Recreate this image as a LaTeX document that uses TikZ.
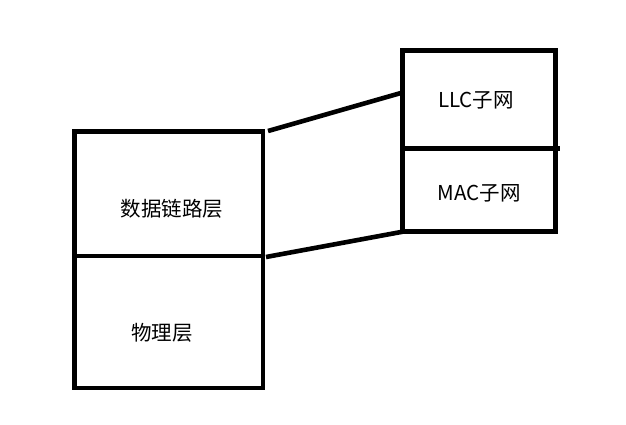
\documentclass[tikz,border=0pt]{standalone}
\usepackage{fontspec}
\setmainfont{Noto Sans CJK SC}
\usetikzlibrary{calc}
\begin{document}
\begin{tikzpicture}[x=1pt,y=-1pt,
  box/.style={draw=black,line width=4.6pt,inner sep=0pt,outer sep=0pt},
  lbl/.style={font=\fontsize{20.5}{24}\selectfont,inner sep=0pt},
  link/.style={draw=black,line width=4.6pt}]
\useasboundingbox[fill=white] (0,0) rectangle (626,424);
% left stack
\node[box,minimum width=188.5pt,minimum height=124.3pt] (dl) at (168.75,193.85) {};
\node[box,minimum width=188.5pt,minimum height=132pt] (phy) at (168.75,322) {};
% right stack
\node[box,minimum width=153pt,minimum height=97.6pt] (llc) at (479.2,99.5) {};
\node[box,minimum width=153pt,minimum height=83.4pt] (mac) at (479.2,190) {};
\draw[link] (mac.north east) -- ($(mac.north east)+(4,0)$);
% texts
\node[lbl] (tdl) at (172,209) {数据链路层};
\node[lbl] (tphy) at (162,333) {物理层};
\node[lbl] (tllc) at (476,100) {LLC子网};
\node[lbl] (tmac) at (479,193) {MAC子网};
% connectors
\coordinate (a1) at (268,131);
\coordinate (a2) at (402.7,92.5);
\coordinate (b1) at (266,257);
\draw[link] (a1) -- (a2);
\draw[link] (b1) -- (mac.south west);
\end{tikzpicture}
\end{document}
